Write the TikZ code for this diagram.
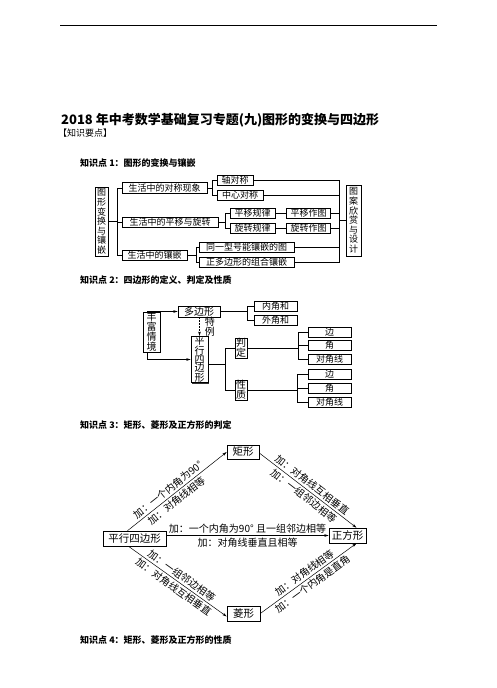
\documentclass[tikz,border=0pt]{standalone}
\usepackage{fontspec}
\setmainfont{Noto Sans CJK SC}
\usetikzlibrary{arrows.meta,positioning,shadows}
\tikzset{
  kbox/.style={
    rectangle, draw, fill=white, line width=0.6pt,
    inner sep=0pt, align=center,
    font=\fontsize{9}{9.6}\selectfont,
    drop shadow={shadow xshift=0.8pt, shadow yshift=-0.8pt,
      fill=black, opacity=0.8}
  },
  wh/.style 2 args={minimum width=#1pt, minimum height=#2pt},
  link/.style={line width=0.5pt},
  arr/.style={-{Stealth[length=4.5pt,width=2.6pt]}, line width=0.5pt},
  headtext/.style={
    anchor=west, inner sep=0pt,
    font=\fontsize{9}{9}\selectfont\bfseries
  },
  tip/.style={font=\fontsize{10}{10}\selectfont, inner sep=2pt},
}

\begin{document}
\begin{tikzpicture}[x=1pt, y=-1pt,
  big/.style={font=\fontsize{10}{10}\selectfont},
  bigbox/.style={kbox, font=\fontsize{10.5}{10.5}\selectfont}]
  \useasboundingbox (0,0) rectangle (496,688);

  % ── page head ────────────────
  \draw[line width=0.9pt] (60,25) coordinate (ra) -- (437,25) coordinate (rz);
  \node[anchor=west, inner sep=0pt, font=\fontsize{13}{13}\selectfont\bfseries]
    (title) at (61,120) {2018 年中考数学基础复习专题(九)图形的变换与四边形};
  \node[anchor=west, inner sep=0pt, font=\fontsize{9}{9}\selectfont]
    (kp) at (58,133) {【知识要点】};

  % ── 知识点 1 ────────────────
  \node[headtext] (h1) at (80,163) {知识点 1：图形的变换与镶嵌};
  \node[kbox, wh={13}{69}] (lft) at (101.5,221.5) {图\\形\\变\\换\\与\\镶\\嵌};
  \node[kbox, wh={85}{11}] (r1) at (164.5,188) {生活中的对称现象};
  \node[kbox, wh={96}{10}] (r2) at (170,222) {生活中的平移与旋转};
  \node[kbox, wh={65}{10}] (r3) at (154.5,255) {生活中的镶嵌};
  \node[kbox, wh={36}{10}] (s11) at (235,180) {轴对称};
  \node[kbox, wh={46}{10}] (s12) at (240,195) {中心对称};
  \node[kbox, wh={45}{10}] (s21) at (252.5,213) {平移规律};
  \node[kbox, wh={45}{10}] (s22) at (252.5,228) {旋转规律};
  \node[kbox, wh={44}{10}, right=11pt of s21] (t21) {平移作图};
  \node[kbox, wh={44}{10}, right=11pt of s22] (t22) {旋转作图};
  \node[kbox, wh={95}{10}] (s31) at (246.5,247) {同一型号能镶嵌的图};
  \node[kbox, wh={95}{10}] (s32) at (246.5,262) {正多边形的组合镶嵌};
  \node[kbox, wh={15}{71}] (rt) at (353.5,220.5) {图\\案\\欣\\赏\\与\\设\\计};

  \draw[link] (lft.east) -- ++(9,0) coordinate (b0);
  \foreach \n in {r1,r2,r3} \draw[link] (b0) |- (\n.west);
  \draw[link] (r1.east) -- ++(5,0) coordinate (k1);
  \foreach \n in {s11,s12} \draw[link] (k1) |- (\n.west);
  \draw[link] (r2.east) -- ++(7,0) coordinate (k2);
  \foreach \n in {s21,s22} \draw[link] (k2) |- (\n.west);
  \draw[link] (r3.east) -- ++(9,0) coordinate (k3);
  \foreach \n in {s31,s32} \draw[link] (k3) |- (\n.west);
  \draw[link] (s21) -- (t21);
  \draw[link] (s22) -- (t22);
  \coordinate[left=6pt of rt.west] (rb);
  \foreach \n in {s11,s12,t21,t22,s31,s32} \draw[link] (\n.east) -| (rb);
  \draw[link] (rb) -- (rt.west);

  % ── 知识点 2 ────────────────
  \node[headtext] (h2) at (80,280) {知识点 2：四边形的定义、判定及性质};
  \node[kbox, big, wh={17}{40}] (qj) at (151.5,332) {丰\\富\\情\\境};
  \node[kbox, big, wh={42}{11}] (dbx) at (199,311.5) {多边形};
  \node[kbox, wh={17}{45}, font=\fontsize{10}{8.8}\selectfont]
    (pxs) at (199.5,359.5) {平\\行\\四\\边\\形};
  \node[kbox, wh={43}{10}] (nj) at (275.5,306) {内角和};
  \node[kbox, wh={43}{10}] (wj) at (275.5,320.5) {外角和};
  \node[kbox, big, wh={12}{20}] (pd) at (241,348) {判\\定};
  \node[kbox, big, wh={12}{20}] (xz) at (241,390) {性\\质};
  \node[kbox, wh={43}{10}] (pd1) at (329.5,332) {边};
  \node[kbox, wh={43}{10}] (pd2) at (329.5,345.5) {角};
  \node[kbox, wh={43}{10}] (pd3) at (329.5,359.5) {对角线};
  \node[kbox, wh={43}{10}] (xz1) at (329.5,374) {边};
  \node[kbox, wh={43}{10}] (xz2) at (329.5,388) {角};
  \node[kbox, wh={43}{10}] (xz3) at (329.5,402) {对角线};

  \draw[arr] ([xshift=-4.5pt]qj.north) |- (dbx.west);
  \draw[arr] ([xshift=-4.5pt]qj.south) |- (pxs.west);
  \draw[arr, dash pattern=on 2pt off 1pt] (dbx.south -| pxs.north) -- (pxs.north)
    node[midway, right=5pt, align=center, inner sep=0pt,
      font=\fontsize{10}{8.5}\selectfont] (tl) {特\\例};
  \draw[link] (dbx.east) -- ++(27,0) coordinate (k4);
  \foreach \n in {nj,wj} \draw[link] (k4) |- (\n.west);
  \draw[link] ([yshift=-5pt]pxs.east) -- ++(17,0) coordinate (k5);
  \foreach \n in {pd,xz} \draw[link] (k5) |- (\n.west);
  \draw[link] (pd.east) -- ++(51,0) coordinate (k6);
  \foreach \n in {pd1,pd2,pd3} \draw[link] (k6) |- (\n.west);
  \draw[link] (xz.east) -- ++(50,0) coordinate (k7);
  \foreach \n in {xz1,xz2,xz3} \draw[link] (k7) |- (\n.west);

  % ── 知识点 3 ────────────────
  \node[headtext] (h3) at (80,425) {知识点 3：矩形、菱形及正方形的判定};
  \node[bigbox, wh={63}{15}] (pg) at (134.5,538.5) {平行四边形};
  \node[bigbox, wh={32}{14}] (jx) at (243,452) {矩形};
  \node[bigbox, wh={37}{15}] (zf) at (347.5,535.5) {正方形};
  \node[bigbox, wh={33}{15}] (lx) at (243.5,613.5) {菱形};

  \draw[arr] ([xshift=-7pt]pg.north) -- (jx.west)
    node[tip, pos=0.45, sloped, above] {加：一个内角为90°}
    node[tip, pos=0.45, sloped, below] {加：对角线相等};
  \draw[arr] ([yshift=-1pt]jx.east) -- ([xshift=9pt]zf.north)
    node[tip, midway, sloped, above] {加：对角线互相垂直}
    node[tip, midway, sloped, below] {加：一组邻边相等};
  \draw[arr] (pg.east |- zf.west) -- (zf.west)
    node[tip, midway, above] {加：一个内角为90°\ 且一组邻边相等}
    node[tip, midway, below] {加：对角线垂直且相等};
  \draw[arr] ([xshift=-6pt]pg.south) -- ([yshift=-3pt]lx.west)
    node[tip, midway, sloped, above] {加：一组邻边相等}
    node[tip, midway, sloped, below] {加：对角线互相垂直};
  \draw[arr] (lx.east) -- ([xshift=9pt]zf.south)
    node[tip, midway, sloped, above] {加：对角线相等}
    node[tip, midway, sloped, below] {加：一个内角是直角};

  % ── 知识点 4 ────────────────
  \node[headtext] (h4) at (80,640) {知识点 4：矩形、菱形及正方形的性质};
\end{tikzpicture}
\end{document}
